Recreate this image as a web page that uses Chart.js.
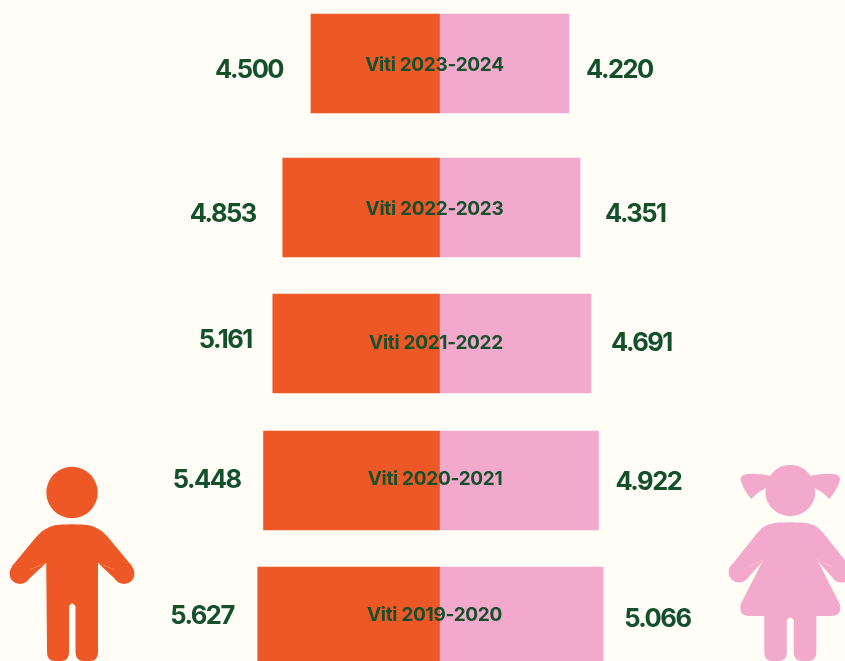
<!DOCTYPE html>
<html>
<head>
<meta charset="utf-8">
<style>
html,body{margin:0;padding:0;background:#FFFDF6;overflow:hidden}
canvas{display:block}
</style>
<script src="https://cdn.jsdelivr.net/npm/chart.js@4/dist/chart.umd.js"></script>
</head>
<body>
<canvas id="c" width="845" height="661"></canvas>
<script>
// Categories, top to bottom
const years = ["Viti 2023-2024","Viti 2022-2023","Viti 2021-2022","Viti 2020-2021","Viti 2019-2020"];
// Printed figures
const boysPrinted = ["4.500","4.853","5.161","5.448","5.627"];
const girlsPrinted = ["4.220","4.351","4.691","4.922","5.066"];
// Bar lengths (the top pair is drawn shorter than its printed figure)
const boysBars = [3978,4853,5161,5448,5627];
const girlsBars = [4009,4351,4691,4922,5066];
// Row centres on the y scale (the top gap is wider)
const rowCentres = [0,1.0549,2.0513,3.0549,4.0513];

const COL = {bg:"#FFFDF6",boy:"#EE5726",girl:"#F2A9CB",ink:"#14502B"};
const valueFont = "700 25.5px Inter";
const yearFont = "700 19px Inter";
// text placement relative to the bars, in pixels
const labelLayout = {
  boyGap:[28,27,21,23,24], boyDy:[6.5,7,-3,0,0],
  girlGap:[17,25,20,17,21], girlDy:[6.5,7,0,1.5,3],
  yearDx:[-5,-5,-3.5,-4.5,-5], yearDy:[1.7,2.2,.2,-.8,-.8]
};

// One side of a figure's upper body: shoulder curve, arm and round hand.
function armSide(ctx,m,s,top,shoulderX,shoulderTopX,outerA,outerB,hand,r,innerA){
  ctx.beginPath();
  ctx.moveTo(m-s*3,top);
  ctx.lineTo(m+s*shoulderTopX,top);
  ctx.quadraticCurveTo(m+s*shoulderX,top,outerA[0]*s+m,outerA[1]);
  ctx.lineTo(outerB[0]*s+m,outerB[1]);
  ctx.lineTo(hand[0]*s+m,hand[1]);
  ctx.lineTo(innerA[0]*s+m,innerA[1]);
  ctx.lineTo(m-s*3,innerA[1]);
  ctx.closePath(); ctx.fill();
  ctx.beginPath(); ctx.arc(hand[0]*s+m,hand[1],r,0,Math.PI*2); ctx.fill();
}
function drawBoy(ctx){
  const m = 72;
  ctx.fillStyle = COL.boy;
  ctx.beginPath(); ctx.arc(m,492.5,25.7,0,Math.PI*2); ctx.fill();
  [1,-1].forEach(s=>{
    armSide(ctx,m,s,524.5,25,10,[35,536],[60.5,566.75],[52,573.5],10.5,[26,563]);
    // inner arm edge wedge
    ctx.beginPath();
    ctx.moveTo(m+s*26,563); ctx.lineTo(m+s*44.5,580.25); ctx.lineTo(m+s*52,573.5); ctx.closePath(); ctx.fill();
  });
  ctx.beginPath();
  ctx.moveTo(m-26,540); ctx.lineTo(m+26,540);
  ctx.lineTo(m+26,652); ctx.quadraticCurveTo(m+26,661,m+18,661);
  ctx.lineTo(m+12,661); ctx.quadraticCurveTo(m+3.5,661,m+3.5,652);
  ctx.lineTo(m+3.5,606); ctx.lineTo(m,603); ctx.lineTo(m-3,606);
  ctx.lineTo(m-3,652); ctx.quadraticCurveTo(m-3,661,m-11,661);
  ctx.lineTo(m-17,661); ctx.quadraticCurveTo(m-25,661,m-25,652);
  ctx.lineTo(m-26,540);
  ctx.closePath(); ctx.fill();
}
function drawGirl(ctx){
  const m = 790.3;
  ctx.fillStyle = COL.girl;
  ctx.beginPath();
  ctx.moveTo(m,465);
  ctx.bezierCurveTo(m+16,465,m+24,478,m+24.8,492);
  ctx.bezierCurveTo(m+25,506,m+13,516,m,516);
  ctx.bezierCurveTo(m-13,516,m-25,506,m-24.8,492);
  ctx.bezierCurveTo(m-24,478,m-16,465,m,465);
  ctx.closePath(); ctx.fill();
  [1,-1].forEach(s=>{
    ctx.beginPath();
    ctx.moveTo(m-s*20,476);
    ctx.quadraticCurveTo(m-s*38,472,m-s*47,475);
    ctx.quadraticCurveTo(m-s*51,478,m-s*49,482);
    ctx.quadraticCurveTo(m-s*46,491,m-s*39,499);
    ctx.quadraticCurveTo(m-s*32,491,m-s*22,487);
    ctx.closePath(); ctx.fill();
    armSide(ctx,m,s,522.5,26,10,[33,533],[59,565.5],[51.3,572],10.5,[24.6,558]);
    ctx.beginPath();
    ctx.moveTo(m+s*24.6,558); ctx.lineTo(m+s*43.5,579); ctx.lineTo(m+s*51.3,572); ctx.closePath(); ctx.fill();
  });
  ctx.beginPath();
  ctx.moveTo(m-26,540); ctx.lineTo(m+26,540);
  ctx.lineTo(m+26,558); ctx.lineTo(m+49.5,604);
  ctx.quadraticCurveTo(m+52,616,m+41,616);
  ctx.lineTo(m+26,616); ctx.lineTo(m+26,652);
  ctx.quadraticCurveTo(m+26,661,m+18,661);
  ctx.lineTo(m+12,661); ctx.quadraticCurveTo(m+3.5,661,m+3.5,652);
  ctx.lineTo(m+3.5,620); ctx.quadraticCurveTo(m,615,m-3.5,620);
  ctx.lineTo(m-3.5,652); ctx.quadraticCurveTo(m-3.5,661,m-12,661);
  ctx.lineTo(m-18,661); ctx.quadraticCurveTo(m-26,661,m-26,652);
  ctx.lineTo(m-26,616); ctx.lineTo(m-41,616);
  ctx.quadraticCurveTo(m-52,616,m-49.5,604);
  ctx.lineTo(m-26,558);
  ctx.closePath(); ctx.fill();
}

const butterflyDecor = {
  id:"butterflyDecor",
  beforeDraw(chart){
    const ctx = chart.ctx; ctx.save();
    ctx.fillStyle = COL.bg; ctx.fillRect(0,0,chart.width,chart.height);
    ctx.restore();
  },
  afterDatasetsDraw(chart){
    const ctx = chart.ctx, L = labelLayout;
    const xs = chart.scales.x;
    const boyEls = chart.getDatasetMeta(0).data, girlEls = chart.getDatasetMeta(1).data;
    ctx.save();
    drawBoy(ctx); drawGirl(ctx);
    ctx.fillStyle = COL.ink; ctx.textBaseline = "middle";
    years.forEach((label,i)=>{
      ctx.font = valueFont; ctx.letterSpacing = "-1.5px";
      ctx.textAlign = "right";
      ctx.fillText(boysPrinted[i], boyEls[i].x - L.boyGap[i], boyEls[i].y + L.boyDy[i]);
      ctx.textAlign = "left";
      ctx.fillText(girlsPrinted[i], girlEls[i].x + L.girlGap[i], girlEls[i].y + L.girlDy[i]);
      ctx.font = yearFont; ctx.textAlign = "center"; ctx.letterSpacing = "-0.3px";
      ctx.fillText(label, xs.getPixelForValue(0) + L.yearDx[i], boyEls[i].y + L.yearDy[i]);
    });
    ctx.restore();
  }
};

new Chart(document.getElementById("c"),{
  type:"bar",
  plugins:[butterflyDecor],
  data:{
    datasets:[
      {label:"Djem", backgroundColor:COL.boy, data:boysBars.map((v,i)=>({x:-v,y:rowCentres[i]}))},
      {label:"Vajza", backgroundColor:COL.girl, data:girlsBars.map((v,i)=>({x:v,y:rowCentres[i]}))}
    ]
  },
  options:{
    indexAxis:"y",
    responsive:false,
    animation:false,
    layout:{padding:0},
    datasets:{bar:{barThickness:99,grouped:false,borderWidth:0}},
    plugins:{legend:{display:false},tooltip:{enabled:false}},
    scales:{
      x:{type:"linear",display:false,min:-13607,max:12554,grid:{display:false}},
      y:{type:"linear",display:false,offset:false,reverse:true,min:-0.4652,max:4.3773,grid:{display:false}}
    }
  }
});
</script>
</body>
</html>
